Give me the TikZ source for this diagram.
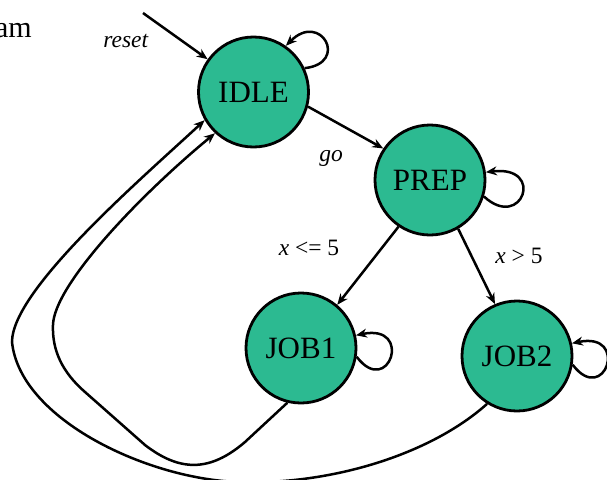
\documentclass[tikz,border=0pt]{standalone}
\usepackage{fontspec}
\setmainfont{Liberation Serif}
\usetikzlibrary{arrows.meta}
\definecolor{statefill}{RGB}{44,186,145}
\begin{document}
\begin{tikzpicture}[x=1pt,y=-1pt,
  state/.style={circle, draw=black, line width=2.8pt, fill=statefill,
    minimum size=110pt, inner sep=0pt, font=\fontsize{31}{31}\selectfont},
  trans/.style={line width=2.5pt, -{Stealth[length=11pt,width=9pt]}},
  lbl/.style={font=\fontsize{23.5}{24}\selectfont, inner sep=0pt, anchor=base}]
\useasboundingbox (0,0) rectangle (607,479);

% heading fragment at the upper left
\node[anchor=base east, font=\fontsize{30}{30}\selectfont, inner sep=0pt] (title) at (32,37) {am};

% states
\node[state] (IDLE) at (253.5,92) {IDLE};
\node[state] (PREP) at (430,180) {PREP};
\node[state] (JOB1) at (301,348) {JOB1};
\node[state] (JOB2) at (517,356) {JOB2};

% entry transition
\coordinate (rs) at (143,13);
\draw[trans] (rs) -- (IDLE);
\node[lbl] (lreset) at (126,47) {\textit{reset}};

% forward transitions
\draw[trans] (IDLE.-15) -- (PREP.146);
\node[lbl] (lgo) at (331,161) {\textit{go}};
\draw[trans] (PREP.236) -- (JOB1.50);
\node[lbl] (lle) at (309,255) {\textit{x} <= 5};
\draw[trans] (PREP.300) -- (JOB2.113);
\node[lbl] (lgt) at (519,263) {\textit{x} > 5};

% self loops
\draw[trans] (IDLE.25) .. controls +(45,-5) and +(35,-35) .. (IDLE.55);
\draw[trans] (PREP.-17) .. controls +(38,35) and +(60,-7) .. (PREP.8);
\draw[trans] (JOB1.-9) .. controls +(32,42) and +(58,-12) .. (JOB1.13);
\draw[trans] (JOB2.-9) .. controls +(32,42) and +(58,-12) .. (JOB2.13);

% return transitions to IDLE
\draw[trans] (JOB1.256) -- (245,442)
  .. controls (210,472) and (180,472) .. (145,445)
  -- (85,392)
  .. controls (62,372) and (52,350) .. (53,325)
  .. controls (54,285) and (140,195) .. (IDLE.227);
\draw[trans] (JOB2.238) .. controls (430,455) and (330,485) .. (240,482)
  .. controls (150,480) and (20,420) .. (12,342)
  .. controls (12,290) and (140,180) .. (IDLE.210);
\end{tikzpicture}
\end{document}
